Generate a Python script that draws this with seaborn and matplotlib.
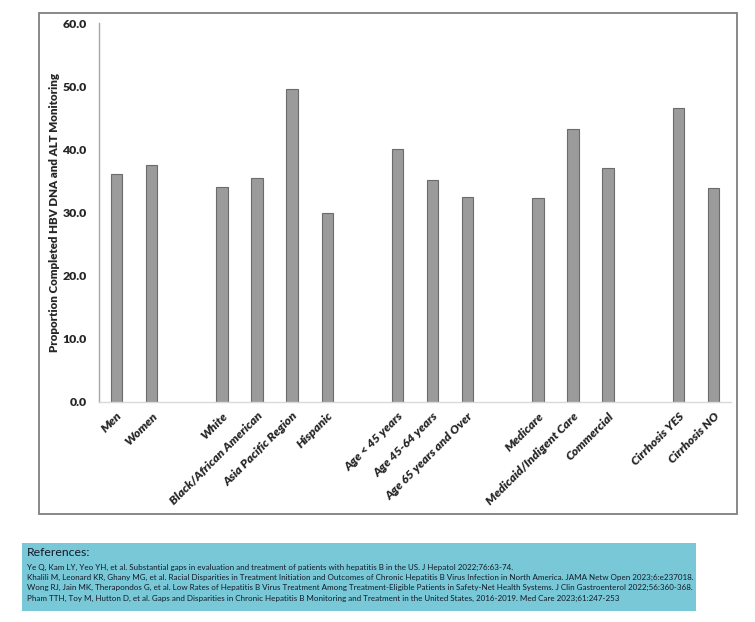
import matplotlib
matplotlib.use('Agg')

import pandas as pd
import seaborn as sns
from matplotlib import pyplot as plt
from matplotlib.patches import Rectangle

# bar groups, a blank slot is left between each group
groups = [
    ["Men", "Women"],
    ["White", "Black/African American", "Asia Pacific Region", "Hispanic"],
    ["Age < 45 years", "Age 45-64 years", "Age 65 years and Over"],
    ["Medicare", "Medicaid/Indigent Care", "Commercial"],
    ["Cirrhosis YES", "Cirrhosis NO"],
]
categories = [c for g in groups for c in g]
values = [36.1, 37.5, 34.1, 35.5, 49.6, 30.0,
          40.1, 35.2, 32.4, 32.3, 43.2, 37.1,
          46.5, 33.8]
yticks = [0, 10, 20, 30, 40, 50, 60]
ylabel = "Proportion Completed HBV DNA and ALT Monitoring"

references = [
    "Ye Q, Kam LY, Yeo YH, et al. Substantial gaps in evaluation and treatment of patients with hepatitis B in the US. J Hepatol 2022;76:63-74.",
    "Khalili M, Leonard KR, Ghany MG, et al. Racial Disparities in Treatment Initiation and Outcomes of Chronic Hepatitis B Virus Infection in North America. JAMA Netw Open 2023;6:e237018.",
    "Wong RJ, Jain MK, Therapondos G, et al. Low Rates of Hepatitis B Virus Treatment Among Treatment-Eligible Patients in Safety-Net Health Systems. J Clin Gastroenterol 2022;56:360-368.",
    "Pham TTH, Toy M, Hutton D, et al. Gaps and Disparities in Chronic Hepatitis B Monitoring and Treatment in the United States, 2016-2019. Med Care 2023;61:247-253",
]

# order with blank spacer slots between groups
order = []
for i, g in enumerate(groups):
    if i > 0:
        order.append(" " * i)
    order.extend(g)

df = pd.DataFrame({'category': categories, 'value': values})

sns.set_style('white')
plt.rcParams['font.family'] = ['Lato', 'DejaVu Sans']

fig = plt.figure(figsize=(7.55, 6.22), dpi=100)
ax = fig.add_axes([99 / 755, 1 - 402 / 622, 632 / 755, 379 / 622])

sns.barplot(data=df, x='category', y='value', order=order, ax=ax,
            color='#9b9b9b', saturation=1, width=0.32,
            edgecolor='#6b6b6b', linewidth=0.8)

ax.set_ylim(0, 60)
ax.set_yticks(yticks)
ax.set_yticklabels(["%.1f" % t for t in yticks], fontsize=8.8, fontweight='heavy')
ax.set_xlabel('')
ax.set_ylabel(ylabel, fontsize=8.3, fontweight='heavy', labelpad=1.5)
ax.tick_params(axis='x', length=0, pad=6)
ax.tick_params(axis='y', length=0, pad=9)
plt.setp(ax.get_xticklabels(), rotation=45, ha='right', rotation_mode='anchor',
         fontsize=8.8, fontweight='heavy', fontstyle='italic')

sns.despine(ax=ax, top=True, right=True)
ax.spines['left'].set_color('#a6a6a6')
ax.spines['bottom'].set_color('#d9d9d9')
ax.spines['left'].set_linewidth(1)
ax.spines['bottom'].set_linewidth(1)

# outer chart frame
fig.patches.append(Rectangle((39 / 755, 1 - 514 / 622), 698 / 755, 501 / 622,
                             transform=fig.transFigure, fill=False,
                             edgecolor='#7f7f7f', linewidth=1.3))

# references box
fig.patches.append(Rectangle((22 / 755, 1 - 611 / 622), 674 / 755, 68 / 622,
                             transform=fig.transFigure, facecolor='#79c8d8',
                             edgecolor='none'))
fig.text(27 / 755, 1 - 553 / 622, "References:", fontsize=8.8,
         color='#141a26', va='center')
for i, ref in enumerate(references):
    fig.text(27 / 755, 1 - (567 + 10.4 * i) / 622, ref, fontsize=5.8,
             color='#141a26', va='center')

fig.savefig('out.png', dpi=100)
